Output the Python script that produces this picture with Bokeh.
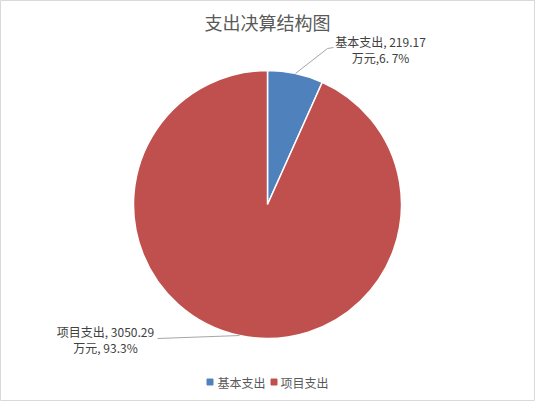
import math
from bokeh.plotting import figure
from bokeh.models import Range1d, ColumnDataSource
from bokeh.core.properties import value
from bokeh.embed import file_html
from bokeh.resources import INLINE

title = "支出决算结构图"
categories = ["基本支出", "项目支出"]
amounts = [219.17, 3050.29]
percents = [6.7, 93.3]
label_lines = [["基本支出, 219.17", "万元,6. 7%"], ["项目支出, 3050.29", "万元, 93.3%"]]
colors = ["#4F81BD", "#C0504D"]

W, H = 535, 401
FONT = "Noto Sans CJK SC"

def X(x):
    return x

def Y(y):
    return H - y

p = figure(width=W, height=H, output_backend="svg", toolbar_location=None,
           x_range=Range1d(0, W), y_range=Range1d(0, H), min_border=0)
p.axis.visible = False
p.grid.visible = False
p.outline_line_color = "#D9D9D9"
p.outline_line_width = 1
p.background_fill_color = "white"
p.border_fill_color = "white"

cx, cy, r = X(267), Y(204), 134
total = sum(amounts)
fr = [a / total for a in amounts]
starts, ends, mids = [], [], []
acc = 0.0
for f in fr:
    s = math.pi / 2 - 2 * math.pi * acc
    e = math.pi / 2 - 2 * math.pi * (acc + f)
    starts.append(s)
    ends.append(e)
    mids.append((s + e) / 2)
    acc += f

src = ColumnDataSource(dict(start=starts, end=ends, color=colors, cat=categories))
p.wedge(x=cx, y=cy, radius=r, start_angle="start", end_angle="end", direction="clock",
        fill_color="color", line_color="white", line_width=1.5, source=src)

# leader lines
elbows = [[(327, 48), (333, 47)], [(157, 338)]]
for m, el in zip(mids, elbows):
    ex, ey = cx + r * math.cos(m), cy + r * math.sin(m)
    xs = [ex] + [X(a) for a, b in el]
    ys = [ey] + [Y(b) for a, b in el]
    p.line(xs, ys, line_color="#A6A6A6", line_width=1)

# labels
label_pos = [(380, 41, 57), (105, 331, 347)]
for lines, (lx, y1, y2) in zip(label_lines, label_pos):
    p.text(x=[X(lx), X(lx)], y=[Y(y1), Y(y2)], text=lines, text_align="center",
           text_baseline="middle", text_font=value(FONT), text_font_size="12px",
           text_color="#404040")

# title
p.text(x=[X(267)], y=[Y(21)], text=[title], text_align="center", text_baseline="middle",
       text_font=value(FONT), text_font_size="18px", text_color="#595959")

# legend
leg_sq_x = [209.5, 273.5]
leg_txt_x = [217, 280]
p.scatter(x=[X(v) for v in leg_sq_x], y=[Y(381.5)] * 2, marker="square", size=6,
          fill_color=colors, line_color=colors)
p.text(x=[X(v) for v in leg_txt_x], y=[Y(381.5)] * 2, text=categories, text_align="left",
       text_baseline="middle", text_font=value(FONT), text_font_size="12px",
       text_color="#595959")

open("out.html", "w").write(file_html(p, INLINE))
